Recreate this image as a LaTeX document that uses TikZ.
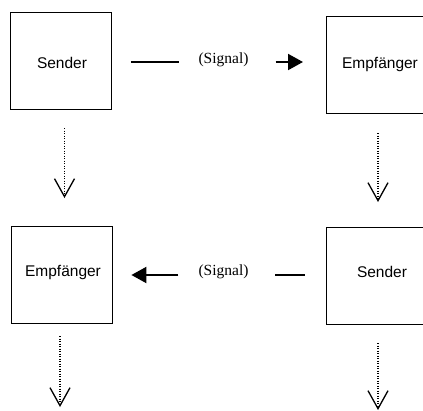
\documentclass[tikz,border=0pt]{standalone}
\usepackage{fontspec}
\setmainfont{Liberation Sans}
\newfontfamily\serifsig{Liberation Serif}
\usetikzlibrary{arrows.meta}
\begin{document}
\begin{tikzpicture}[x=1pt,y=-1pt,
  box/.style={draw=black,line width=1.4pt,minimum width=101pt,minimum height=97pt,inner sep=0pt,font=\fontsize{15.5}{18}\selectfont},
  siglabel/.style={inner sep=0pt,font=\serifsig\fontsize{15.5}{18}\selectfont},
  sigline/.style={line width=2pt},
  sigarrow/.style={line width=2pt,-{Triangle[length=15pt,width=16pt]}},
  flow/.style={line width=1.3pt,dash pattern=on 1.3pt off 1.2pt,-{Straight Barb[length=18pt,width=20pt,line width=1.3pt]}}]
\useasboundingbox (0,0) rectangle (423,410);
\clip (0,0) rectangle (423,410);
% boxes
\node[box,anchor=north west] (s1) at (9.5,12) {};
\node at (62,63) {\fontsize{15.5}{18}\selectfont Sender};
\node[box,anchor=north west] (e1) at (326,16) {};
\node at (380,64) {\fontsize{15.5}{18}\selectfont Empfänger};
\node[box,anchor=north west] (e2) at (11,226) {};
\node at (63,272) {\fontsize{15.5}{18}\selectfont Empfänger};
\node[box,anchor=north west] (s2) at (325.5,227) {};
\node at (382,272) {\fontsize{15.5}{18}\selectfont Sender};
% signal labels
\node[siglabel] (sig1) at (223.5,60) {(Signal)};
\node[siglabel] (sig2) at (223.5,272) {(Signal)};
% top signal
\draw[sigline] ([xshift=19pt]s1.east |- 0,62) -- ([xshift=-19pt]sig1.west |- 0,62);
\draw[sigarrow] ([xshift=27pt]sig1.east |- 0,62) -- ([xshift=-23pt]e1.west |- 0,62);
% bottom signal
\draw[sigline] ([xshift=-21pt]s2.west |- 0,275) -- ([xshift=26pt]sig2.east |- 0,275);
\draw[sigarrow] ([xshift=-20pt]sig2.west |- 0,275) -- ([xshift=18pt]e2.east |- 0,275);
% flow arrows
\coordinate (a1s) at (64.5,128);
\coordinate (a1e) at (64.5,198);
\coordinate (a2s) at (378,133);
\coordinate (a2e) at (378,202);
\coordinate (a3s) at (60,336);
\coordinate (a3e) at (60,407);
\coordinate (a4s) at (378,343);
\coordinate (a4e) at (378,410);
\draw[flow] (a1s) -- (a1e);
\draw[flow] (a2s) -- (a2e);
\draw[flow] (a3s) -- (a3e);
\draw[flow] (a4s) -- (a4e);
\end{tikzpicture}
\end{document}
